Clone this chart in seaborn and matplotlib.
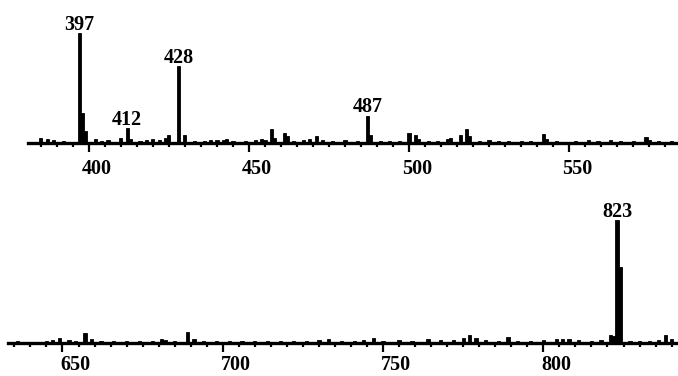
import matplotlib
matplotlib.use("Agg")
import matplotlib.pyplot as plt
import matplotlib.transforms as mtransforms
from matplotlib.ticker import MultipleLocator
import pandas as pd
import seaborn as sns

# upper trace, m/z 381-584 (intensity relative to 397 = 100)
top_mass = [385, 387, 389, 392, 397, 398, 399, 402, 404, 406, 410, 412, 413,
            416, 418, 420, 422, 424, 425, 428, 430, 433, 436, 438, 440, 442,
            443, 445, 449, 452, 454, 455, 457, 458, 461, 462, 464, 467, 469,
            471, 473, 476, 480, 484, 487, 488, 491, 494, 497, 500, 502, 503,
            506, 509, 512, 513, 516, 518, 519, 522, 525, 528, 531, 535, 538,
            542, 543, 546, 552, 556, 559, 563, 566, 570, 574, 575, 578, 582]
top_int = [4.5, 3.4, 2.5, 2, 100, 27, 11, 4, 2, 3, 4.5, 13.5, 4,
           2, 2.5, 4, 3, 4.5, 7, 70, 7, 2, 2, 2.5, 3, 3,
           3.5, 2, 2, 3, 4, 3, 13, 5, 9, 6, 2, 3, 4,
           6, 3, 2, 2.5, 2, 25, 7, 2, 2, 2, 9.5, 7, 4,
           2, 2, 4, 5, 7, 13, 6, 2, 2.5, 2, 2, 2, 2,
           8, 4, 2, 2, 2.5, 2, 2.5, 2, 2, 5.5, 3, 2, 2]
top_labels = [397, 412, 428, 487]
top_range = (381, 584)

# lower trace, m/z 633-842
bottom_mass = [636, 645, 647, 649, 652, 654, 657, 659, 662, 666, 670, 674,
               678, 681, 682, 685, 689, 691, 694, 698, 702, 706, 710, 714,
               718, 722, 726, 730, 733, 737, 741, 744, 747, 750, 755, 759,
               764, 768, 772, 775, 777, 779, 782, 786, 789, 792, 796, 800,
               804, 806, 808, 811, 815, 818, 821, 822, 823, 824, 827, 830,
               833, 836, 838, 840]
bottom_int = [2, 2, 3, 5, 2.5, 2, 9, 3.5, 2, 2, 2, 2,
              2, 4, 3, 2, 10, 4, 2, 2, 2, 2, 2, 2,
              2, 2, 2, 2.5, 3.5, 2, 2, 2.5, 5, 2, 2.5, 2,
              4, 2.5, 3, 5, 7, 5, 2.5, 2, 5.5, 2, 2, 2.5,
              4, 4, 4, 2.5, 2, 3, 7.5, 6, 112, 69, 2, 2,
              2, 3, 7.5, 4]
bottom_labels = [823]
bottom_range = (633, 842)

sns.set_theme(style="ticks")
plt.rcParams["font.family"] = ["Liberation Serif", "DejaVu Serif"]
plt.rcParams["font.weight"] = "bold"

fig = plt.figure(figsize=(6.78, 3.76), dpi=100)
fig.patch.set_facecolor("white")
ax_top = fig.add_axes([28 / 678, 233 / 376, 650 / 678, 143 / 376])
ax_bot = fig.add_axes([8 / 678, 33 / 376, 670 / 678, 150 / 376])


def draw_trace(ax, mass, inten, xrange, ymax, labels, label_shift, pad):
    df = pd.DataFrame({"mass": mass, "intensity": inten})
    sns.histplot(data=df, x="mass", weights="intensity", discrete=True,
                 shrink=1.0, color="black", edgecolor="black", linewidth=0.6,
                 alpha=1, ax=ax)
    for m in labels:
        h = inten[mass.index(m)]
        ax.annotate(str(m), xy=(m, h), xytext=(0, 3), textcoords="offset pixels",
                    ha="center", va="baseline", fontsize=14.5, fontweight="bold",
                    color="black")
    ax.set_xlim(*xrange)
    ax.set_ylim(0, ymax)
    ax.set_xlabel("")
    ax.set_ylabel("")
    ax.set_yticks([])
    for side in ["left", "right", "top"]:
        ax.spines[side].set_visible(False)
    ax.spines["bottom"].set_linewidth(2.4)
    ax.spines["bottom"].set_color("black")
    ax.set_facecolor("none")
    ax.xaxis.set_major_locator(MultipleLocator(50))
    ax.xaxis.set_minor_locator(MultipleLocator(5))
    ax.tick_params(axis="x", which="major", direction="out", length=6.5,
                   width=1.6, pad=pad, labelsize=14.5, color="black",
                   labelcolor="black")
    ax.tick_params(axis="x", which="minor", direction="out", length=3.2,
                   width=1.6, color="black")
    # the printed numbers sit a little right of their ticks
    offset = mtransforms.ScaledTranslation(label_shift / 100, 0, fig.dpi_scale_trans)
    for lab in ax.get_xticklabels():
        lab.set_transform(lab.get_transform() + offset)


draw_trace(ax_top, top_mass, top_int, top_range, 130, top_labels, 8, 5)
draw_trace(ax_bot, bottom_mass, bottom_int, bottom_range, 136.4, bottom_labels, 13, 2.5)

fig.savefig("out.png", dpi=100, facecolor="white")
